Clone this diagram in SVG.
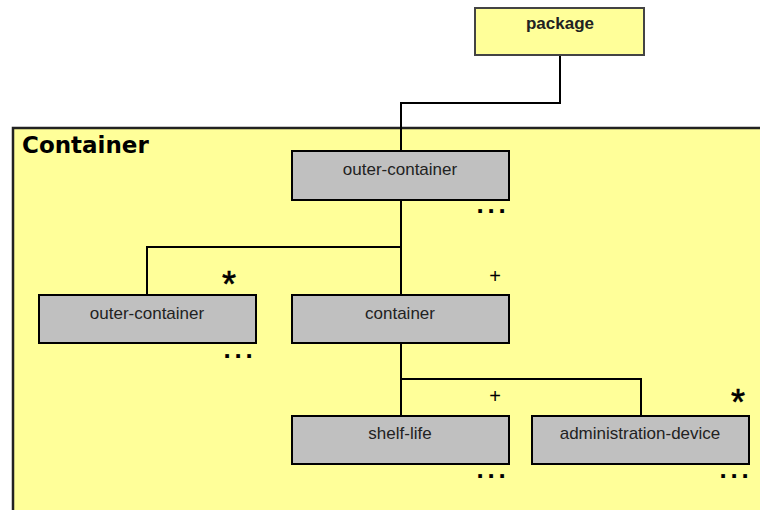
<svg xmlns="http://www.w3.org/2000/svg" width="760" height="510" viewBox="0 0 760 510">
<style>
.box{fill:#c0c0c0;stroke:#000;stroke-width:2}
.lbl{font-family:"Liberation Sans",Arial,sans-serif;font-size:17px;fill:#222;text-anchor:middle}
.dots{font-family:"Liberation Sans",Arial,sans-serif;font-size:26px;font-weight:bold;fill:#000;text-anchor:middle}
.star{font-family:"Liberation Sans",Arial,sans-serif;font-size:36px;fill:#000;stroke:#000;stroke-width:0.6;text-anchor:middle}
.plus{font-family:"Liberation Sans",Arial,sans-serif;font-size:20px;fill:#000;text-anchor:middle}
.conn{fill:none;stroke:#000;stroke-width:2}
</style>
<rect width="760" height="510" fill="#fff"/>
<g id="container-frame">
<rect x="13" y="128" width="760" height="400" fill="#ffff99" stroke="#222" stroke-width="2.5"/>
<text x="22" y="153" font-family="DejaVu Sans,Verdana,sans-serif" font-weight="bold" font-size="23" fill="#000">Container</text>
</g>
<g id="connectors">
<polyline class="conn" points="560,55 560,103 401,103 401,151"/>
<polyline class="conn" points="401,200 401,295"/>
<polyline class="conn" points="401,247 147,247 147,295"/>
<polyline class="conn" points="401,343 401,416"/>
<polyline class="conn" points="401,379 641,379 641,416"/>
</g>
<g id="package">
<rect x="475" y="8" width="169" height="47" fill="#ffff99" stroke="#444" stroke-width="2"/>
<text x="560" y="29" class="lbl" font-weight="bold" fill="#111">package</text>
</g>
<g id="outer-container-top">
<rect class="box" x="292" y="151" width="217" height="49"/>
<text x="400" y="175" class="lbl">outer-container</text>
<text class="dots" x="480 491 502" y="213">...</text>
</g>
<g id="outer-container-left">
<rect class="box" x="39" y="295" width="217" height="48"/>
<text x="147" y="319" class="lbl">outer-container</text>
<text class="star" x="229" y="297">*</text>
<text class="dots" x="227 238 249" y="358">...</text>
</g>
<g id="container">
<rect class="box" x="292" y="295" width="217" height="48"/>
<text x="400" y="319" class="lbl">container</text>
<text class="plus" x="495" y="283">+</text>
</g>
<g id="shelf-life">
<rect class="box" x="292" y="416" width="217" height="48"/>
<text x="400" y="439" class="lbl">shelf-life</text>
<text class="plus" x="495" y="403">+</text>
<text class="dots" x="480 491 502" y="478">...</text>
</g>
<g id="administration-device">
<rect class="box" x="532" y="416" width="217" height="48"/>
<text x="640" y="439" class="lbl">administration-device</text>
<text class="star" x="738" y="415">*</text>
<text class="dots" x="723 734 745" y="478">...</text>
</g>
</svg>
